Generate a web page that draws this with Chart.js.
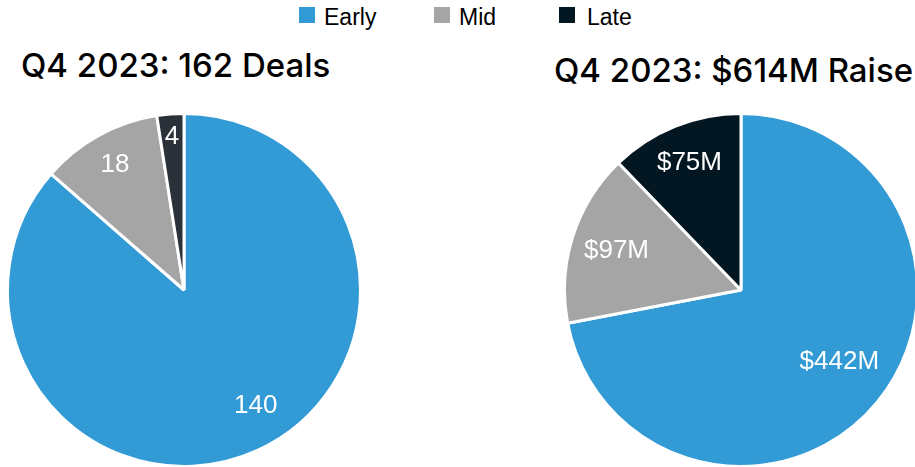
<!DOCTYPE html>
<html>
<head>
<meta charset="utf-8">
<script src="https://cdn.jsdelivr.net/npm/chart.js@4.4.1/dist/chart.umd.min.js"></script>
<style>
  html, body { margin: 0; padding: 0; background: #fff; overflow: hidden; }
  body { width: 915px; height: 467px; position: relative; }
  .title {
    position: absolute; margin: 0; white-space: nowrap;
    font-family: Inter, "Noto Sans", sans-serif; font-weight: 500;
    font-size: 33px; color: #000; line-height: 1;
  }
  .legend { position: absolute; top: 0; left: 0; font-family: "Liberation Sans", Arial, sans-serif; font-size: 23px; color: #000; }
  .legend .item { position: absolute; top: 6px; white-space: nowrap; line-height: 23px; }
  .legend .box { position: absolute; width: 16px; height: 16px; }
  .pie { position: absolute; top: 112px; width: 356px; height: 356px; }
</style>
</head>
<body>
<div class="legend" id="legend"></div>
<h2 class="title" id="dealsTitle" style="left:21px; top:49px;"></h2>
<h2 class="title" id="raiseTitle" style="left:554px; top:54px;"></h2>
<div class="pie" style="left:6px;"><canvas id="dealsPie"></canvas></div>
<div class="pie" style="left:563px;"><canvas id="raisePie"></canvas></div>

<script>
const STAGES = ["Early", "Mid", "Late"];
const DEALS = [140, 18, 4];
const RAISED = [442, 97, 75]; // $M
const DEALS_COLORS = ["#329bd6", "#a5a5a5", "#2a3139"];
const RAISE_COLORS = ["#329bd6", "#a5a5a5", "#021722"];
const LEGEND_COLORS = ["#329bd6", "#a5a5a5", "#021722"];

const sum = arr => arr.reduce((a, b) => a + b, 0);

document.getElementById("dealsTitle").textContent = `Q4 2023: ${sum(DEALS)} Deals`;
document.getElementById("raiseTitle").textContent = `Q4 2023: $${sum(RAISED)}M Raise`;

// ---------- legend ----------
const legendX = [299, 434, 559];
const legend = document.getElementById("legend");
STAGES.forEach((s, i) => {
  const box = document.createElement("div");
  box.className = "box";
  box.style.left = legendX[i] + "px";
  box.style.top = "7px";
  box.style.background = LEGEND_COLORS[i];
  legend.appendChild(box);
  const txt = document.createElement("div");
  txt.className = "item";
  txt.style.left = (legendX[i] + (i === 2 ? 28 : 25)) + "px";
  txt.textContent = s;
  legend.appendChild(txt);
});

// ---------- slice labels ----------
// radius: fraction of the outer radius, shift: angle nudge in radians
const sliceLabels = {
  id: "sliceLabels",
  afterDatasetsDraw(chart, args, opts) {
    const ctx = chart.ctx;
    const meta = chart.getDatasetMeta(0);
    const values = chart.data.datasets[0].data;
    ctx.save();
    ctx.fillStyle = "#fff";
    ctx.font = '26px "Liberation Sans", Arial, sans-serif';
    ctx.textAlign = "center";
    ctx.textBaseline = "middle";
    meta.data.forEach((arc, i) => {
      const p = arc.getProps(["x", "y", "startAngle", "endAngle", "outerRadius"], true);
      const mid = (p.startAngle + p.endAngle) / 2 + opts.shift[i];
      const r = p.outerRadius * opts.radius[i];
      ctx.fillText(opts.format(values[i]), p.x + Math.cos(mid) * r, p.y + Math.sin(mid) * r);
    });
    ctx.restore();
  }
};

function makePie(id, values, colors, format, radius, shift) {
  return new Chart(document.getElementById(id), {
    type: "pie",
    data: {
      labels: STAGES,
      datasets: [{
        data: values,
        backgroundColor: colors,
        borderColor: "#fff",
        borderWidth: 3
      }]
    },
    options: {
      responsive: true,
      maintainAspectRatio: false,
      animation: false,
      layout: { padding: 0 },
      plugins: {
        legend: { display: false },
        tooltip: { enabled: false },
        sliceLabels: { format, radius, shift }
      }
    },
    plugins: [sliceLabels]
  });
}

makePie("dealsPie", DEALS, DEALS_COLORS, v => String(v), [0.77, 0.81, 0.87], [-0.13, 0, 0]);
makePie("raisePie", RAISED, RAISE_COLORS, v => `$${v}M`, [0.69, 0.74, 0.78], [-0.06, 0, 0]);
</script>
</body>
</html>
